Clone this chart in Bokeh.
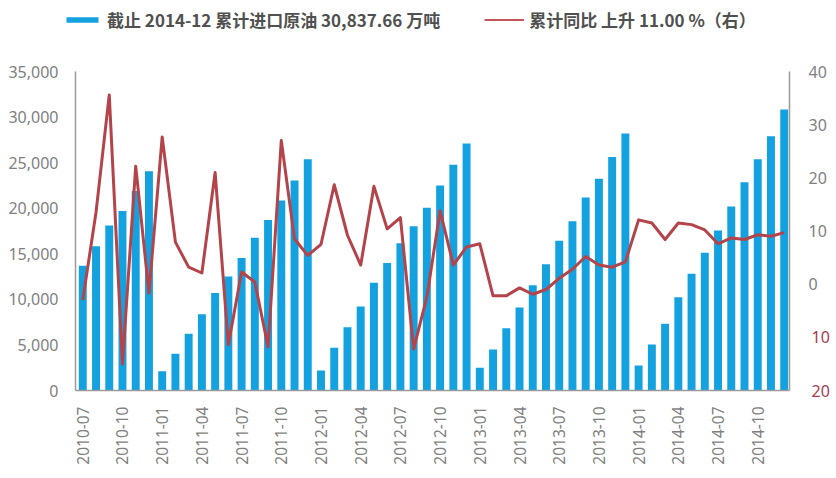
import math
from bokeh.plotting import figure
from bokeh.layouts import column
from bokeh.models import (Range1d, LinearAxis, FixedTicker, NumeralTickFormatter,
                          ColumnDataSource, Legend, LegendItem)
from bokeh.embed import file_html
from bokeh.resources import INLINE

months = [
    "2010-07", "2010-08", "2010-09", "2010-10", "2010-11", "2010-12",
    "2011-01", "2011-02", "2011-03", "2011-04", "2011-05", "2011-06",
    "2011-07", "2011-08", "2011-09", "2011-10", "2011-11", "2011-12",
    "2012-01", "2012-02", "2012-03", "2012-04", "2012-05", "2012-06",
    "2012-07", "2012-08", "2012-09", "2012-10", "2012-11", "2012-12",
    "2013-01", "2013-02", "2013-03", "2013-04", "2013-05", "2013-06",
    "2013-07", "2013-08", "2013-09", "2013-10", "2013-11", "2013-12",
    "2014-01", "2014-02", "2014-03", "2014-04", "2014-05", "2014-06",
    "2014-07", "2014-08", "2014-09", "2014-10", "2014-11", "2014-12",
]

# cumulative crude oil imports, 10k tonnes
imports = [
    13700, 15830, 18100, 19700, 21900, 24060,
    2100, 4020, 6220, 8370, 10710, 12500, 14550, 16750, 18720, 20840, 23040, 25370,
    2190, 4680, 6950, 9210, 11810, 14000, 16160, 18020, 20040, 22490, 24760, 27100,
    2490, 4500, 6840, 9100, 11550, 13860, 16420, 18570, 21170, 23220, 25630, 28200,
    2740, 5050, 7310, 10240, 12800, 15100, 17550, 20180, 22850, 25370, 27900, 30838,
]

# cumulative year-on-year change, %
yoy = [
    -3.0, 13.5, 35.6, -15.0, 22.2, -1.7,
    27.7, 7.9, 3.2, 2.1, 21.0, -11.4, 2.3, 0.4, -11.8, 27.0, 8.5, 5.4,
    7.5, 18.7, 9.2, 3.6, 18.4, 10.4, 12.5, -12.2, -2.4, 13.8, 3.6, 7.0,
    7.6, -2.2, -2.2, -0.7, -1.9, -1.0, 1.1, 2.8, 5.2, 3.6, 3.2, 4.2,
    12.1, 11.5, 8.4, 11.5, 11.2, 10.2, 7.6, 8.7, 8.4, 9.3, 9.0, 9.7,
]

left_ticks = [0, 5000, 10000, 15000, 20000, 25000, 30000, 35000]
right_ticks = [0, 10, 20, 30, 40]
right_neg_ticks = [-20, -10]
right_neg_labels = {-20: "20", -10: "10"}
legend_bar = "截止 2014-12 累计进口原油 30,837.66 万吨"
legend_line = "累计同比 上升 11.00 %（右）"

BAR_COLOR = "#13a2df"
LINE_COLOR = "#b4434a"
LEG_LINE_COLOR = "#c4545a"
AXIS_COLOR = "#9a9a9a"
LABEL_COLOR = "#7f7f7f"
NEG_COLOR = "#a63c4e"
FONT = "Noto Sans"
CJK = "Noto Sans CJK SC"

idx = list(range(len(months)))
src = ColumnDataSource(dict(x=idx, month=months, imports=imports, yoy=yoy))

# ---------------- legend strip ----------------
LEG_H = 40
leg = figure(width=836, height=LEG_H, output_backend="svg", toolbar_location=None,
             x_axis_type=None, y_axis_type=None, min_border=0,
             x_range=Range1d(60, 120), y_range=Range1d(40000, 80000))
leg.frame_align = False
leg.outline_line_color = None
leg.xgrid.visible = False
leg.ygrid.visible = False
# the same series, kept outside this strip's visible range: only the swatches show
lb = leg.vbar(x="x", top="imports", width=0.6, source=src,
              fill_color=BAR_COLOR, line_color=None)
ll = leg.line(x="x", y="yoy", source=src, line_color=LEG_LINE_COLOR, line_width=2)
legend = Legend(items=[LegendItem(label=legend_bar, renderers=[lb]),
                       LegendItem(label=legend_line, renderers=[ll])],
                orientation="horizontal", location=(62, 8),
                padding=0, margin=0, spacing=44,
                glyph_width=40, glyph_height=7, label_standoff=5,
                label_height=20, label_text_font=CJK, label_text_font_size="17px",
                label_text_font_style="bold", label_text_color="#505050",
                border_line_color=None, background_fill_alpha=0)
leg.add_layout(legend, "center")

# ---------------- main chart ----------------
X0, X1 = -0.55, 53.4
p = figure(width=836, height=478 - LEG_H, output_backend="svg", toolbar_location=None,
           x_range=Range1d(X0, X1), y_range=Range1d(0, 35000),
           x_axis_type=None, y_axis_type=None,
           min_border_left=75, min_border_right=47,
           min_border_top=71 - LEG_H, min_border_bottom=88)
p.frame_align = False
p.extra_y_ranges = {"yoy": Range1d(-20, 40)}
p.outline_line_color = None

p.vbar(x="x", top="imports", width=0.6, source=src,
       fill_color=BAR_COLOR, line_color=None)
p.line(x="x", y="yoy", source=src, y_range_name="yoy",
       line_color=LINE_COLOR, line_width=3, line_join="round")


def style(ax, size="16px", color=LABEL_COLOR):
    ax.axis_line_color = AXIS_COLOR
    ax.axis_line_width = 1.5
    ax.major_tick_line_color = None
    ax.minor_tick_line_color = None
    ax.major_tick_out = 0
    ax.major_tick_in = 0
    ax.minor_tick_out = 0
    ax.major_label_text_color = color
    ax.major_label_text_font = FONT
    ax.major_label_text_font_size = size


left = LinearAxis(ticker=FixedTicker(ticks=left_ticks),
                  formatter=NumeralTickFormatter(format="0,0"))
style(left)
left.major_label_standoff = 17
p.add_layout(left, "left")

right = LinearAxis(y_range_name="yoy", ticker=FixedTicker(ticks=right_ticks))
style(right)
right.major_label_standoff = 19
p.add_layout(right, "right")

# negative side of the right axis: labels without sign, in dark red
right_neg = LinearAxis(y_range_name="yoy", ticker=FixedTicker(ticks=right_neg_ticks),
                       major_label_overrides=right_neg_labels)
style(right_neg, color=NEG_COLOR)
right_neg.axis_line_color = None
right_neg.major_label_standoff = -18
p.add_layout(right_neg, "right")

tick_idx = idx[::3]
bottom = LinearAxis(ticker=FixedTicker(ticks=tick_idx),
                    major_label_overrides={i: months[i] for i in tick_idx},
                    major_label_orientation=math.pi / 2)
style(bottom, "15.5px")
bottom.major_label_standoff = 16
p.add_layout(bottom, "below")

layout = column(leg, p, spacing=0)
open("out.html", "w").write(file_html(layout, INLINE))
